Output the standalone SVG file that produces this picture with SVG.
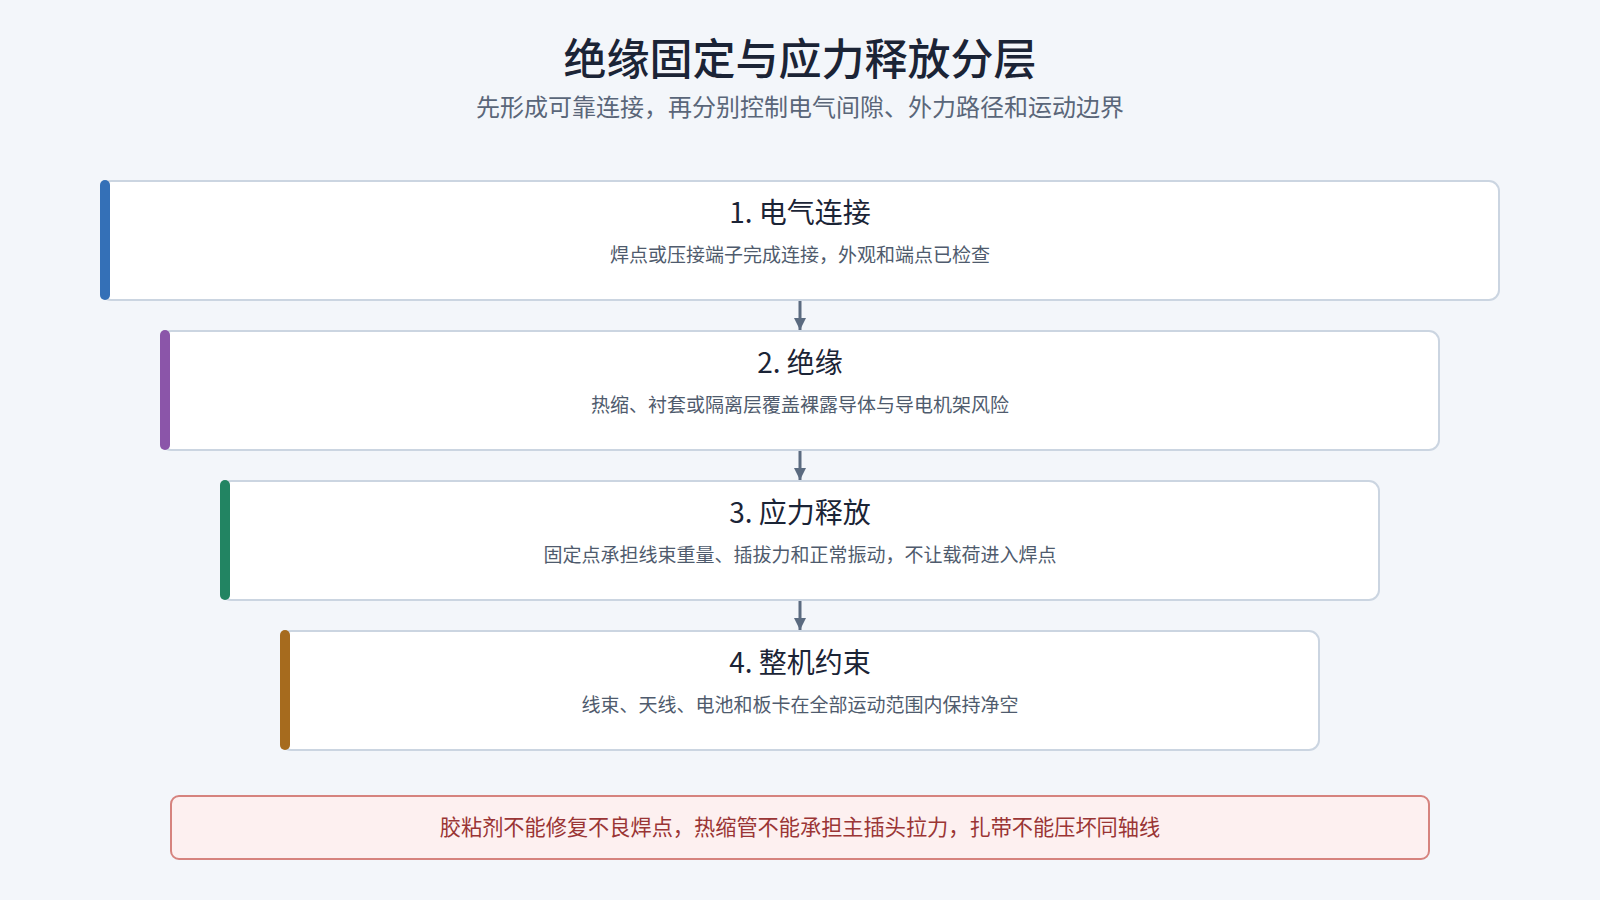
<svg xmlns="http://www.w3.org/2000/svg" width="1600" height="900" viewBox="0 0 1600 900">
<defs>
<style>
text{font-family:"Noto Sans CJK SC","Noto Sans",sans-serif;text-anchor:middle}
.title{font-size:43px;font-weight:500;fill:#1b2436}
.sub{font-size:24px;fill:#5a6679}
.card{fill:#ffffff;stroke:#cbd5e1;stroke-width:2}
.ntitle{font-size:28px;font-weight:400;fill:#1b2436}
.desc{font-size:19px;fill:#4f5b6d}
.conn{stroke:#5b6b80;stroke-width:3;fill:none}
.warnbox{fill:#fdf0f0;stroke:#d6837e;stroke-width:2}
.warn{font-size:21.2px;font-weight:400;fill:#9a3535}
</style>
<marker id="arr" viewBox="0 0 10 10" refX="10" refY="5" markerWidth="4" markerHeight="4" markerUnits="strokeWidth" orient="auto">
<path d="M0,0 L10,5 L0,10 z" fill="#5b6b80"/>
</marker>
</defs>
<rect x="0" y="0" width="1600" height="900" fill="#f3f6fa"/>
<text class="title" x="800" y="75">绝缘固定与应力释放分层</text>
<text class="sub" x="800" y="116">先形成可靠连接，再分别控制电气间隙、外力路径和运动边界</text>

<g id="connectors">
<line class="conn" x1="800" y1="300" x2="800" y2="330" marker-end="url(#arr)"/>
<line class="conn" x1="800" y1="450" x2="800" y2="480" marker-end="url(#arr)"/>
<line class="conn" x1="800" y1="600" x2="800" y2="630" marker-end="url(#arr)"/>
</g>

<g id="node1">
<rect class="card" x="101" y="181" width="1398" height="119" rx="10"/>
<rect x="100" y="180" width="10" height="120" rx="5" fill="#3470b7"/>
<text class="ntitle" x="800" y="223">1. 电气连接</text>
<text class="desc" x="800" y="262">焊点或压接端子完成连接，外观和端点已检查</text>
</g>
<g id="node2">
<rect class="card" x="161" y="331" width="1278" height="119" rx="10"/>
<rect x="160" y="330" width="10" height="120" rx="5" fill="#8b55a9"/>
<text class="ntitle" x="800" y="373">2. 绝缘</text>
<text class="desc" x="800" y="412">热缩、衬套或隔离层覆盖裸露导体与导电机架风险</text>
</g>
<g id="node3">
<rect class="card" x="221" y="481" width="1158" height="119" rx="10"/>
<rect x="220" y="480" width="10" height="120" rx="5" fill="#228462"/>
<text class="ntitle" x="800" y="523">3. 应力释放</text>
<text class="desc" x="800" y="562">固定点承担线束重量、插拔力和正常振动，不让载荷进入焊点</text>
</g>
<g id="node4">
<rect class="card" x="281" y="631" width="1038" height="119" rx="10"/>
<rect x="280" y="630" width="10" height="120" rx="5" fill="#a66b1e"/>
<text class="ntitle" x="800" y="673">4. 整机约束</text>
<text class="desc" x="800" y="712">线束、天线、电池和板卡在全部运动范围内保持净空</text>
</g>

<g id="warning">
<rect class="warnbox" x="171" y="796" width="1258" height="63" rx="8"/>
<text class="warn" x="800" y="835">胶粘剂不能修复不良焊点，热缩管不能承担主插头拉力，扎带不能压坏同轴线</text>
</g>
</svg>
